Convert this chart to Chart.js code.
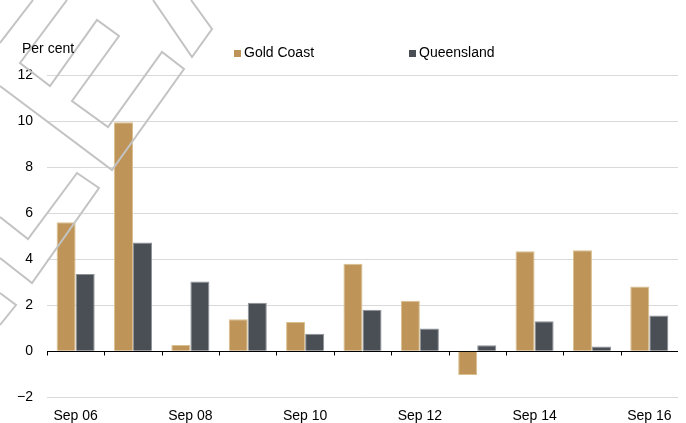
<!DOCTYPE html>
<html>
<head>
<meta charset="utf-8">
<script src="https://cdn.jsdelivr.net/npm/chart.js@4.4.1/dist/chart.umd.min.js"></script>
<style>
  html, body { margin: 0; padding: 0; background: #fff; }
  #wrap { width: 686px; height: 423px; position: relative; }
</style>
</head>
<body>
<div id="wrap"><canvas id="mycanvas"></canvas></div>
<script>
// chart data
var categories = ['Sep 06','Sep 07','Sep 08','Sep 09','Sep 10','Sep 11','Sep 12','Sep 13','Sep 14','Sep 15','Sep 16'];
var goldCoast  = [5.6, 9.95, 0.27, 1.39, 1.27, 3.8, 2.19, -1.04, 4.34, 4.39, 2.81];
var queensland = [3.35, 4.72, 3.03, 2.1, 0.76, 1.8, 0.98, 0.26, 1.3, 0.2, 1.55];
var seriesNames = ['Gold Coast', 'Queensland'];
var yTicks = [-2, 0, 2, 4, 6, 8, 10, 12];

var FONT = 'Arial, "Liberation Sans", sans-serif';

// grey outline logo in the top-left corner (decoration only)
var logoLines = [
  [[0,43],[33,0]],
  [[67,0],[20,63],[50,86],[97,20],[119,36],[72,101],[108,127],[162,52],[184,69],[112,170],[0,86]],
  [[153,0],[192,57],[212,29],[191,0]],
  [[0,217],[28,239],[77,173],[99,188],[32,283],[0,258]],
  [[0,293],[16,305],[0,325]]
];

var extras = {
  id: 'extras',
  afterDatasetsDraw: function(chart) {
    var ctx = chart.ctx;
    var x = chart.scales.x, y = chart.scales.y;
    ctx.save();
    // tick marks on the zero line
    var y0 = Math.round(y.getPixelForValue(0)) + 0.5;
    var w = (x.right - x.left) / categories.length;
    ctx.strokeStyle = '#000';
    ctx.lineWidth = 1;
    ctx.beginPath();
    for (var i = 0; i < categories.length; i++) {
      var px = Math.round(x.left + i * w) + 0.5;
      ctx.moveTo(px, y0);
      ctx.lineTo(px, y0 + 4);
    }
    ctx.stroke();
    // logo
    ctx.strokeStyle = '#c3c3c3';
    ctx.lineWidth = 2;
    ctx.lineJoin = 'miter';
    logoLines.forEach(function(pts) {
      ctx.beginPath();
      ctx.moveTo(pts[0][0], pts[0][1]);
      for (var k = 1; k < pts.length; k++) ctx.lineTo(pts[k][0], pts[k][1]);
      ctx.stroke();
    });
    ctx.restore();
  },
  afterDraw: function(chart) {
    var ctx = chart.ctx;
    ctx.save();
    ctx.font = '14px ' + FONT;
    ctx.fillStyle = '#000';
    ctx.textBaseline = 'middle';
    ctx.textAlign = 'left';
    ctx.fillText('Per cent', 22, 49);
    // legend
    var legendX = [234, 409];
    chart.data.datasets.forEach(function(ds, i) {
      ctx.fillStyle = ds.backgroundColor;
      ctx.fillRect(legendX[i], 50, 7, 7);
      ctx.fillStyle = '#000';
      ctx.fillText(ds.label, legendX[i] + 10, 53);
    });
    ctx.restore();
  }
};

var chartdata = {
  labels: categories,
  datasets: [
    {
      label: seriesNames[0],
      data: goldCoast,
      backgroundColor: '#bf9458',
      borderColor: '#d9c08e',
      borderWidth: 1
    },
    {
      label: seriesNames[1],
      data: queensland,
      backgroundColor: '#4a4f56',
      borderColor: '#8e9297',
      borderWidth: 1
    }
  ]
};

var mycanvas = new Chart(document.getElementById('mycanvas'), {
  type: 'bar',
  data: chartdata,
  plugins: [extras],
  options: {
    responsive: true,
    maintainAspectRatio: false,
    animation: false,
    layout: { padding: { top: 75, left: 3, right: 8, bottom: -13 } },
    categoryPercentage: 0.664,
    barPercentage: 1,
    plugins: {
      legend: { display: false },
      tooltip: { enabled: false }
    },
    scales: {
      x: {
        grid: { display: false, drawTicks: false },
        border: { display: false },
        ticks: {
          autoSkip: false,
          maxRotation: 0,
          color: '#000',
          padding: 11,
          font: { family: FONT, size: 14 },
          callback: function(v, i) { return i % 2 === 0 ? categories[i] : ''; }
        }
      },
      y: {
        min: yTicks[0],
        max: yTicks[yTicks.length - 1],
        afterBuildTicks: function(axis) {
          axis.ticks = yTicks.map(function(v) { return { value: v }; });
        },
        border: { display: false },
        grid: {
          drawTicks: false,
          lineWidth: 1,
          color: function(c) { return c.tick && c.tick.value === 0 ? '#000' : '#d9d9d9'; }
        },
        ticks: {
          color: '#000',
          padding: 14,
          font: { family: FONT, size: 14 },
          callback: function(v) { return String(v).replace('-', '\u2212'); }
        }
      }
    }
  }
});
</script>
</body>
</html>
